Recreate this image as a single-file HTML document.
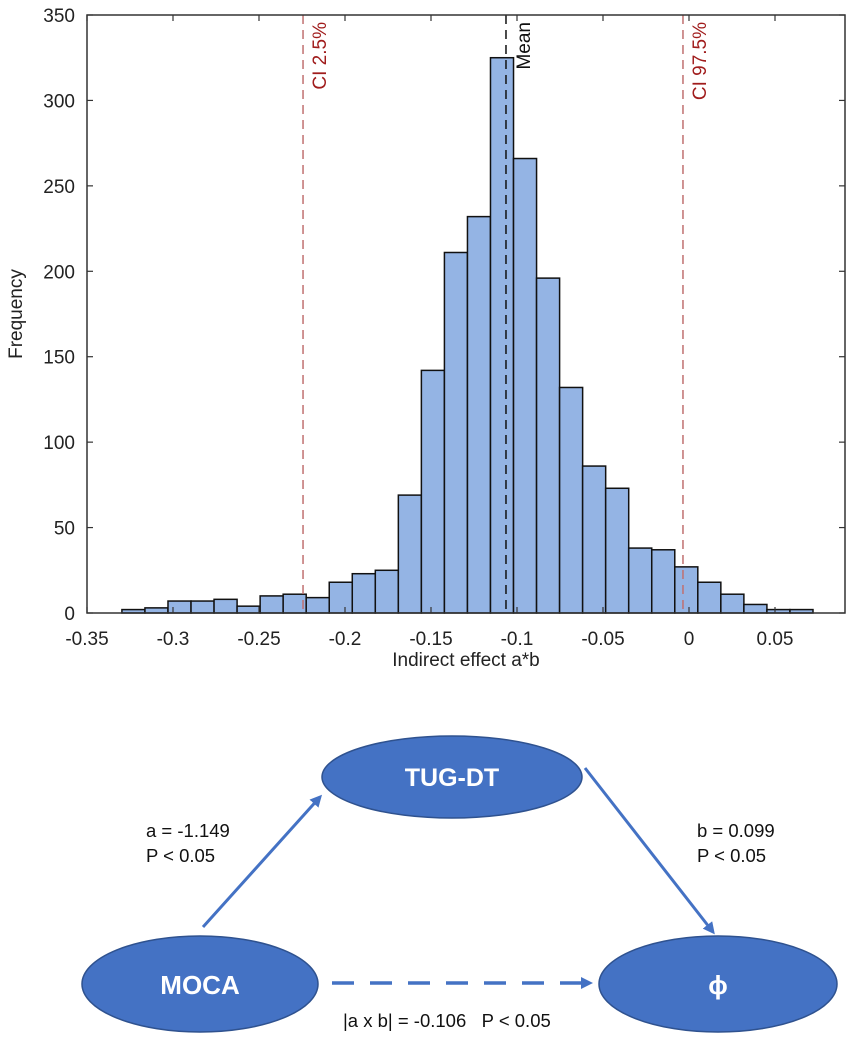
<!DOCTYPE html>
<html><head><meta charset="utf-8"><style>
body{margin:0;background:#fff;}
svg{display:block;font-family:"Liberation Sans",sans-serif;}
</style></head><body>
<svg id="chart" width="850" height="1039" viewBox="0 0 850 1039">
<g id="hist"></g>
<g id="diagram">
  <defs>
    <marker id="ah" markerWidth="12" markerHeight="12" refX="9" refY="6" orient="auto" markerUnits="userSpaceOnUse" viewBox="0 0 12 12"><path d="M0,0 L12,6 L0,12 z" fill="#4472c4"/></marker>
  </defs>
  <line x1="203" y1="927" x2="320" y2="797" stroke="#4472c4" stroke-width="3" marker-end="url(#ah)"/>
  <line x1="585" y1="768" x2="713" y2="932" stroke="#4472c4" stroke-width="3" marker-end="url(#ah)"/>
  <line x1="332" y1="983" x2="590" y2="983" stroke="#4472c4" stroke-width="3.5" stroke-dasharray="22,16" marker-end="url(#ah)"/>
  <ellipse cx="452" cy="777" rx="130" ry="41" fill="#4472c4" stroke="#2f528f" stroke-width="1.5"/>
  <text x="452" y="786" text-anchor="middle" fill="#fff" font-weight="bold" font-size="25">TUG-DT</text>
  <ellipse cx="200" cy="984" rx="118" ry="48" fill="#4472c4" stroke="#2f528f" stroke-width="1.5"/>
  <text x="200" y="994" text-anchor="middle" fill="#fff" font-weight="bold" font-size="26">MOCA</text>
  <ellipse cx="718" cy="984" rx="119" ry="48" fill="#4472c4" stroke="#2f528f" stroke-width="1.5"/>
  <text x="718" y="994" text-anchor="middle" fill="#fff" font-weight="bold" font-size="26">ϕ</text>
  <text x="146" y="837" font-size="18.5" fill="#111">a = -1.149</text>
  <text x="146" y="862" font-size="18.5" fill="#111">P &lt; 0.05</text>
  <text x="697" y="837" font-size="18.5" fill="#111">b = 0.099</text>
  <text x="697" y="862" font-size="18.5" fill="#111">P &lt; 0.05</text>
  <text x="343" y="1027" font-size="18.5" fill="#111">|a x b| = -0.106 &#160;&#160;P &lt; 0.05</text>
</g>
</svg>
<script>
const binStart = -0.3297;
const binWidth = 0.013393;
const counts = [2,3,7,7,8,4,10,11,9,18,23,25,69,142,211,232,325,266,196,132,86,73,38,37,27,18,11,5,2,2];
const xTicks = [-0.35,-0.3,-0.25,-0.2,-0.15,-0.1,-0.05,0,0.05];
const xTickLabels = ["-0.35","-0.3","-0.25","-0.2","-0.15","-0.1","-0.05","0","0.05"];
const yTicks = [0,50,100,150,200,250,300,350];
const meanValue = -0.1064;
const ciLow = -0.2244;
const ciHigh = -0.0035;

const NS="http://www.w3.org/2000/svg";
const L=87,R=845,T=15,B=613;
const xMin=-0.35,xMax=0.0907,yMax=350;
function xs(v){return L+(v-xMin)/(xMax-xMin)*(R-L);}
function ys(v){return B-v/yMax*(B-T);}
const g=document.getElementById('hist');
function mk(tag,attrs,parent){const e=document.createElementNS(NS,tag);for(const k in attrs)e.setAttribute(k,attrs[k]);(parent||g).appendChild(e);return e;}

counts.forEach((c,i)=>{
  const x0=xs(binStart+i*binWidth),x1=xs(binStart+(i+1)*binWidth);
  const r=mk('rect',{x:x0,y:ys(c),width:x1-x0,height:B-ys(c),fill:'#94b4e4',stroke:'#111','stroke-width':1.5});
  
  
});
function vline(v,color,name){
  const l=mk('line',{x1:xs(v),x2:xs(v),y1:T,y2:B,stroke:color,'stroke-width':1.5,'stroke-dasharray':'9,6'});
  
  
}
vline(ciLow,'#c07070','ci-low-line');
vline(ciHigh,'#c07070','ci-high-line');
vline(meanValue,'#111','mean-line');
function vtext(x,txt,color,name){
  const t=mk('text',{transform:`translate(${x},22) rotate(-90)`,'text-anchor':'end','font-size':19,fill:color});
  t.textContent=txt;
  
  
}
vtext(xs(ciLow)+23,'CI 2.5%','#a01c1c','ci-low-label');
vtext(xs(ciHigh)+23,'CI 97.5%','#a01c1c','ci-high-label');
vtext(xs(meanValue)+24,'Mean','#111','mean-label');

const fr=mk('rect',{x:L,y:T,width:R-L,height:B-T,fill:'none',stroke:'#333','stroke-width':1.5});


xTicks.forEach((v,i)=>{
  const x=xs(v);
  mk('line',{x1:x,x2:x,y1:B,y2:B-6,stroke:'#333','stroke-width':1.2});
  mk('line',{x1:x,x2:x,y1:T,y2:T+6,stroke:'#333','stroke-width':1.2});
  const t=mk('text',{x:x,y:B+32,'text-anchor':'middle','font-size':19,fill:'#222'});
  t.textContent=xTickLabels[i];
  
  
});
yTicks.forEach(v=>{
  const y=ys(v);
  mk('line',{x1:L,x2:L+6,y1:y,y2:y,stroke:'#333','stroke-width':1.2});
  mk('line',{x1:R,x2:R-6,y1:y,y2:y,stroke:'#333','stroke-width':1.2});
  const t=mk('text',{x:L-12,y:y+7,'text-anchor':'end','font-size':19,fill:'#222'});
  t.textContent=String(v);
  
  
});
const xl=mk('text',{x:466,y:666,'text-anchor':'middle','font-size':19,fill:'#222'});
xl.textContent='Indirect effect a*b';


const yl=mk('text',{transform:'translate(22,314) rotate(-90)','text-anchor':'middle','font-size':19,fill:'#222'});
yl.textContent='Frequency';


</script>
</body></html>
